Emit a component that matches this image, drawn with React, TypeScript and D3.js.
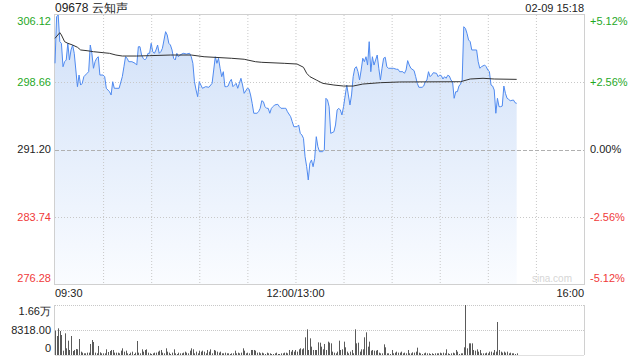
import React from 'react';
import * as d3 from 'd3';

const stockTitle = '09678 云知声';
const stamp = '02-09 15:18';
const prevClose = 291.2;
const priceTicks = [306.12, 298.66, 291.2, 283.74, 276.28];
const priceTickLabels = ['306.12', '298.66', '291.20', '283.74', '276.28'];
const pctTickLabels = ['+5.12%', '+2.56%', '0.00%', '-2.56%', '-5.12%'];
const timeLabels = ['09:30', '12:00/13:00', '16:00'];
const timeLabelMinutes = [0, 150, 330];
const volTicks = [16636, 8318, 0];
const volTickLabels = ['1.66万', '8318.00', '0'];

const priceMinutes = [
  0, 1, 2, 3, 4, 5, 6, 7, 8, 9, 10, 11, 12, 14, 15, 16, 17, 18, 20, 21, 22, 23, 24, 25, 26, 27, 28, 30, 31, 32,
  33, 34, 35, 36, 37, 38, 40, 42, 43, 44, 45, 46, 48, 50, 51, 52, 53, 54, 55, 56, 57, 58, 59, 60, 61, 62, 63, 64,
  65, 66, 67, 69, 70, 71, 72, 73, 74, 75, 76, 77, 78, 80, 82, 84, 85, 86, 87, 88, 89, 90, 91, 92, 94, 96, 98, 99,
  100, 101, 102, 103, 104, 105, 106, 107, 108, 109, 110, 111, 112, 113, 114, 115, 116, 117, 118, 120, 121, 122,
  123, 124, 126, 127, 128, 129, 130, 131, 132, 133, 134, 135, 136, 137, 139, 140, 141, 143, 144, 145, 147, 148,
  149, 151, 152, 153, 154, 155, 156, 157, 158, 159, 160, 161, 162, 163, 164, 165, 167, 168, 169, 170, 171, 172,
  174, 175, 176, 177, 178, 179, 180, 182, 183, 184, 185, 186, 187, 188, 189, 190, 191, 192, 193, 194, 195, 196,
  197, 198, 199, 200, 201, 202, 203, 204, 205, 206, 207, 208, 211, 213, 214, 215, 217, 218, 219, 220, 221, 222,
  224, 225, 226, 227, 229, 230, 231, 232, 233, 234, 235, 236, 238, 239, 240, 241, 242, 243, 244, 245, 246, 247,
  248, 249, 250, 251, 252, 253, 254, 255, 256, 257, 258, 259, 260, 263, 264, 265, 266, 268, 269, 270, 271, 272,
  273, 274, 275, 276, 277, 278, 279, 280, 281, 282, 283, 284, 286, 287, 288,
];
const priceValues = [
  300.76, 305.93, 306.12, 303.16, 302.98, 300.38, 300.94, 301.13, 302.98, 301.13, 302.24, 302.79, 301.87, 298.17,
  299.46, 298.35, 298.54, 299.28, 299.65, 299.83, 302.79, 301.87, 300.21, 300.94, 301.32, 301.49, 299.46, 299.46,
  299.28, 297.99, 297.8, 297.61, 297.25, 298.72, 297.99, 297.99, 297.99, 299.28, 300.38, 301.49, 301.32, 300.94,
  300.94, 300.76, 300.57, 302.6, 302.6, 301.68, 301.32, 301.13, 301.32, 301.87, 301.87, 302.98, 302.05, 301.87,
  302.24, 302.79, 301.87, 302.05, 302.42, 304.27, 303.9, 302.98, 302.79, 302.24, 301.32, 301.13, 301.87, 301.49,
  301.68, 301.87, 301.79, 301.87, 301.49, 300.76, 298.72, 297.8, 297.06, 298.72, 298.35, 297.99, 298.17, 298.1,
  298.54, 300.02, 301.49, 300.76, 301.32, 300.21, 299.28, 299.83, 298.17, 298.17, 298.24, 298.72, 298.98, 298.17,
  298.35, 298.54, 297.99, 298.54, 299.1, 298.35, 297.43, 297.99, 297.91, 297.25, 296.32, 295.22, 295.22, 295.39,
  295.77, 296.61, 296.5, 295.95, 295.77, 295.77, 295.22, 295.77, 295.95, 296.14, 296.21, 295.95, 295.77, 295.77,
  295.77, 295.39, 294.84, 294.28, 293.73, 293.73, 293.92, 292.99, 292.81, 292.44, 290.4, 289.29, 287.82, 289.67,
  290.04, 289.29, 290.22, 292.62, 291.51, 290.96, 290.96, 291.15, 296.88, 296.69, 295.95, 292.99, 293.17, 293.92,
  295.58, 295.77, 295.58, 295.03, 295.95, 298.35, 297.25, 296.14, 297.25, 299.28, 300.21, 300.38, 299.83, 298.91,
  300.02, 301.32, 300.94, 301.49, 300.57, 303.16, 299.83, 301.49, 300.57, 301.13, 301.68, 300.21, 298.91, 300.21,
  301.32, 301.43, 300.38, 300.21, 300.21, 300.1, 300.1, 299.83, 299.83, 299.65, 300.02, 301.06, 300.57, 300.21,
  299.95, 299.28, 298.54, 298.1, 298.1, 298.24, 298.72, 298.91, 299.83, 299.28, 299.46, 299.72, 299.65, 299.28,
  299.46, 299.39, 299.02, 299.28, 299.1, 299.43, 299.35, 298.91, 298.72, 296.88, 297.61, 297.61, 298.24, 298.46,
  298.91, 304.82, 304.64, 304.09, 303.35, 303.16, 302.24, 302.24, 300.94, 300.21, 300.38, 300.57, 300.38, 300.02,
  299.83, 298.35, 298.24, 297.8, 295.22, 296.88, 295.95, 295.95, 296.02, 298.24, 297.43, 296.88, 296.76, 296.61,
  296.69, 296.39, 296.32,
];

const avgMinutes = [
  0, 3, 4, 6, 8, 11, 14, 16, 20, 24, 30, 34, 38, 42, 51, 59, 72, 85, 93, 110, 118, 125, 129, 143, 151, 155, 157,
  159, 163, 167, 174, 180, 186, 192, 203, 215, 253, 259, 267, 274, 288,
];
const avgValues = [
  303.53, 304.16, 303.9, 303.16, 302.98, 302.79, 302.54, 302.24, 302.16, 302.05, 301.94, 301.87, 301.68, 301.57,
  301.57, 301.61, 301.68, 301.68, 301.49, 301.32, 301.21, 300.94, 300.87, 300.76, 300.68, 300.32, 299.65, 299.28,
  298.91, 298.54, 298.35, 298.24, 298.24, 298.46, 298.61, 298.69, 298.72, 299.02, 299.1, 299.02, 298.98,
];

const volumes = [
  8100, 6320, 8870, 7990, 6650, 1440, 7210, 2220, 4770, 1665, 6320, 1330, 1665, 2000, 1890, 5320, 1110, 780, 555,
  555, 780, 780, 3660, 4990, 4330, 780, 555,
  3000, 888, 555, 555, 555, 1890, 1000, 1330, 1665, 1665, 777, 777, 777, 555, 1443,
  2220, 1110, 1443, 555, 333, 777, 1110, 333, 777, 4660, 777,
  555, 1887, 1110, 1665, 1887, 777, 555, 333, 555, 777, 777, 1110,
  1443, 1665, 777, 555, 2220, 1110, 777, 333, 777, 1887, 555,
  333, 777, 555, 555, 777, 1110, 777, 555, 1443, 2220, 1887, 555,
  1110, 555, 1443, 1110, 1443, 1110, 555, 1665, 1110, 1887, 555,
  1665, 1443, 1110, 777, 1110, 555, 555, 777, 555, 555, 333, 555,
  555, 1443, 555, 777, 555, 777, 2220, 1443, 555, 777, 555,
  1665, 1665, 1665, 1443, 777, 888, 555, 777, 555, 333, 777, 555,
  555, 333, 333, 555, 777, 333, 333, 555, 555, 777, 777, 555,
  1665, 1110, 1665, 1110, 1665, 1110, 1887, 2220, 1887, 2220, 5880,
  8540, 1665, 5550, 2775, 1665, 1665, 1665, 4210, 4100, 2775, 1887, 3660, 1665, 4440, 4100, 3880, 1110, 777, 555,
  1110, 4770, 1665, 1887, 4440, 2553, 1110, 555, 1110, 1665, 555,
  8540, 3880, 4100, 1110, 1887, 1887, 5880, 7540, 2775, 4440, 1443, 1665, 1443, 1443, 1665, 777, 555, 555, 3550,
  2553, 555, 555, 333, 1665, 555, 777, 1110, 777, 777, 1110, 555, 777, 555, 1665, 555, 555,
  888, 777, 1110, 2442, 777, 555, 333, 555, 777, 555, 555, 333, 555, 333, 555, 555, 555,
  777, 555, 777, 555, 1887, 555, 333, 555, 777, 555, 1665, 1110, 333, 555, 555, 2553,
  16636, 2220, 3880, 3880, 3880, 1665, 1443, 1887, 1110, 1665, 555,
  555, 555, 777, 555, 1110, 1110, 777, 1665, 1110, 10980, 1665, 1110, 777, 1110, 777, 1110, 555, 777, 555, 555,
  333, 555,
];

const W = 640;
const H = 360;
const L = 55;
const R = 584;
const T = 15;
const B = 284;
const VT = 305;
const VB = 355;
const FONT = "Arial, 'Liberation Sans', Helvetica, sans-serif";
const GREEN = '#1fa81f';
const RED = '#f03a3a';
const DARK = '#222';

export default function App() {
  const x = d3.scaleLinear().domain([0, 330]).range([L, R]);
  const y = d3.scaleLinear().domain([276.28, 306.12]).range([B, T]);
  const yv = d3.scaleLinear().domain([0, 16636]).range([VB, VT]);

  const pts = priceMinutes.map((m, i) => [m, priceValues[i]] as [number, number]);
  const avgPts = avgMinutes.map((m, i) => [m, avgValues[i]] as [number, number]);

  const line = d3.line<[number, number]>().x((d) => x(d[0])).y((d) => y(d[1]));
  const area = d3
    .area<[number, number]>()
    .x((d) => x(d[0]))
    .y0(B)
    .y1((d) => y(d[1]));

  const gridMinutes = d3.range(30, 330, 30);
  const colorFor = (v: number) => (Math.abs(v - prevClose) < 1e-6 ? DARK : v > prevClose ? GREEN : RED);
  const clampY = (v: number) => Math.min(Math.max(v, T + 6), B - 6);

  return (
    <svg width={W} height={H} style={{ position: 'absolute', left: 0, top: 0, background: '#fff' }} fontFamily={FONT}>
      <defs>
        <linearGradient id="fillGrad" gradientUnits="userSpaceOnUse" x1="0" y1={T} x2="0" y2={B}>
          <stop offset="0" stopColor="#d0e0f8" />
          <stop offset="1" stopColor="#fafcff" />
        </linearGradient>
      </defs>

      <text x={L} y={12} fontSize={12} fill={DARK}>
        {stockTitle}
      </text>
      <text x={R} y={12} fontSize={11} fill={DARK} textAnchor="end">
        {stamp}
      </text>

      <path d={area(pts) || ''} fill="url(#fillGrad)" />

      {gridMinutes.map((m) => (
        <line key={'vg' + m} x1={x(m) + 0.5} x2={x(m) + 0.5} y1={T} y2={B} stroke="#c8c8c8" strokeDasharray="1,2" />
      ))}
      {priceTicks.slice(1, 4).map((v) => (
        <line
          key={'hg' + v}
          x1={L}
          x2={R}
          y1={Math.round(y(v)) + 0.5}
          y2={Math.round(y(v)) + 0.5}
          stroke={v === prevClose ? '#b0b0b0' : '#c8c8c8'}
          strokeDasharray={v === prevClose ? '4,2' : '1,2'}
        />
      ))}

      <rect x={L - 0.5} y={T - 0.5} width={R - L + 1} height={B - T + 1} fill="none" stroke="#d0d0d0" />

      <path d={line(pts) || ''} fill="none" stroke="#4f8af0" strokeWidth={1} strokeLinejoin="round" />
      <path d={line(avgPts) || ''} fill="none" stroke="#333" strokeWidth={1} />

      <text x={552} y={282} fontSize={10} fill="#d6d6d6" textAnchor="middle">
        sina.com
      </text>

      {priceTicks.map((v, i) => (
        <text key={'pl' + i} x={51} y={clampY(y(v))} dy="0.35em" fontSize={11} fill={colorFor(v)} textAnchor="end">
          {priceTickLabels[i]}
        </text>
      ))}
      {priceTicks.map((v, i) => (
        <text key={'pr' + i} x={590} y={clampY(y(v))} dy="0.35em" fontSize={11} fill={colorFor(v)}>
          {pctTickLabels[i]}
        </text>
      ))}

      {timeLabels.map((t, i) => (
        <text
          key={'t' + i}
          x={x(timeLabelMinutes[i])}
          y={297}
          fontSize={11}
          fill={DARK}
          textAnchor={i === 0 ? 'start' : i === timeLabels.length - 1 ? 'end' : 'middle'}
        >
          {t}
        </text>
      ))}

      <line x1={L} x2={R} y1={VT + 0.5} y2={VT + 0.5} stroke="#c8c8c8" strokeDasharray="1,1" />
      <line x1={L} x2={R} y1={yv(8318) + 0.5} y2={yv(8318) + 0.5} stroke="#c8c8c8" strokeDasharray="1,1" />
      <line x1={L - 0.5} x2={L - 0.5} y1={VT} y2={VB} stroke="#d0d0d0" />
      <line x1={R + 0.5} x2={R + 0.5} y1={VT} y2={VB} stroke="#d0d0d0" />
      <line x1={L} x2={R} y1={VB + 0.5} y2={VB + 0.5} stroke="#e0e0e0" />

      {volumes.map((v, i) => (
        <line
          key={'v' + i}
          x1={Math.round(x(i)) + 0.5}
          x2={Math.round(x(i)) + 0.5}
          y1={yv(0)}
          y2={yv(v)}
          stroke="#5a5a5a"
          strokeWidth={1}
        />
      ))}

      {volTicks.map((v, i) => (
        <text
          key={'vl' + i}
          x={51}
          y={Math.min(Math.max(yv(v), VT + 6.5), VB - 7)}
          dy="0.35em"
          fontSize={11}
          fill={DARK}
          textAnchor="end"
        >
          {volTickLabels[i]}
        </text>
      ))}
    </svg>
  );
}
